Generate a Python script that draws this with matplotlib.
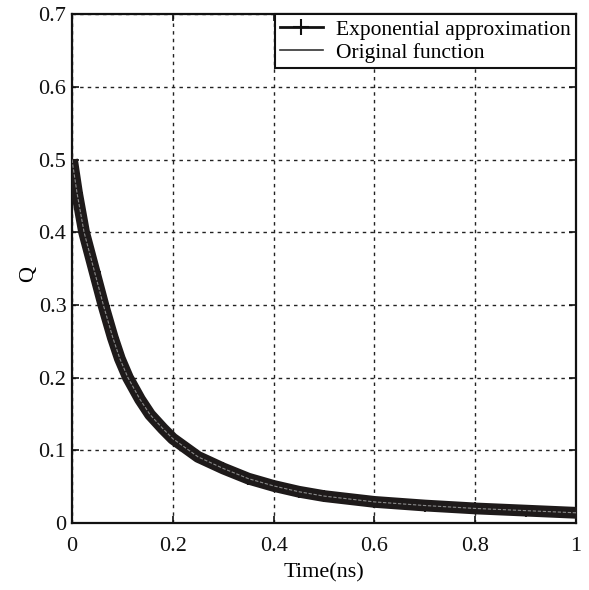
import matplotlib
matplotlib.use("Agg")
import matplotlib.pyplot as plt
from matplotlib.lines import Line2D

time_ns = [0.0, 0.01, 0.024, 0.045, 0.063, 0.081, 0.095, 0.111, 0.135, 0.155, 0.18, 0.2,
           0.25, 0.3, 0.35, 0.4, 0.45, 0.5, 0.6, 0.7, 0.8, 0.9, 1.0]
q_approx = [0.5, 0.454, 0.40, 0.345, 0.298, 0.255, 0.226, 0.20, 0.170, 0.149, 0.130, 0.116,
            0.091, 0.075, 0.061, 0.051, 0.043, 0.037, 0.029, 0.024, 0.020, 0.017, 0.014]
q_orig = [0.5, 0.454, 0.40, 0.345, 0.298, 0.255, 0.226, 0.20, 0.170, 0.149, 0.130, 0.116,
          0.091, 0.075, 0.061, 0.051, 0.043, 0.037, 0.029, 0.024, 0.020, 0.017, 0.014]

xticks = [0, 0.2, 0.4, 0.6, 0.8, 1]
xticklabels = ["0", "0.2", "0.4", "0.6", "0.8", "1"]
yticks = [0, 0.1, 0.2, 0.3, 0.4, 0.5, 0.6, 0.7]
yticklabels = ["0", "0.1", "0.2", "0.3", "0.4", "0.5", "0.6", "0.7"]

plt.rcParams['font.family'] = ['Liberation Serif', 'DejaVu Serif']

fig = plt.figure(figsize=(5.89, 5.90), dpi=100)
ax = fig.add_axes([0.1222, 0.1136, 0.978 - 0.1222, 0.976 - 0.1136])

ax.plot(time_ns, q_approx, color='#1e1a1a', lw=8.5, solid_capstyle='butt',
        solid_joinstyle='round', zorder=3)
ax.plot(time_ns, q_approx, color='#1e1a1a', lw=0, marker='+', ms=9, mew=1.5, zorder=3)
ax.plot(time_ns, q_orig, color='#8a8a8a', lw=0.8, ls=(0, (3, 1.5)), zorder=4)

ax.set_xlim(0, 1)
ax.set_ylim(0, 0.7)
ax.set_xticks(xticks)
ax.set_xticklabels(xticklabels)
ax.set_yticks(yticks)
ax.set_yticklabels(yticklabels)
ax.tick_params(direction='in', top=True, right=True, length=5, width=1.2,
               labelsize=16, colors='#111111')
ax.tick_params(axis='x', pad=10)
ax.tick_params(axis='y', pad=4)
for s in ax.spines.values():
    s.set_linewidth(1.6)
    s.set_color('#111111')
ax.grid(True, color='#222222', ls=(0, (2.5, 3)), lw=1.0)

ax.set_xlabel("Time(ns)", fontsize=16, labelpad=5)
ax.set_ylabel("Q", fontsize=16)
ax.yaxis.set_label_coords(-0.068, 0.49)

handles = [Line2D([], [], color='#111111', lw=2, marker='+', ms=11, mew=1.5),
           Line2D([], [], color='#333333', lw=1.2)]
leg = ax.legend(handles, ["Exponential approximation", "Original function"],
                loc='upper right', fontsize=15.5, frameon=True, fancybox=False,
                borderaxespad=0, handlelength=2.0, handletextpad=0.6,
                labelspacing=0.15, borderpad=0.25)
leg.get_frame().set_edgecolor('#111111')
leg.get_frame().set_linewidth(1.5)
leg.get_frame().set_alpha(1)

fig.savefig("out.png", dpi=100)
